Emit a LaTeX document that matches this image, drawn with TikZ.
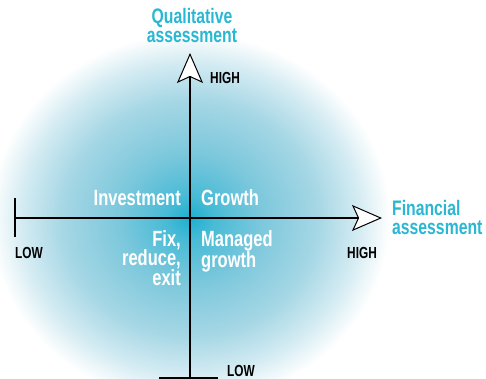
\documentclass[tikz,border=0pt]{standalone}
\usepackage{fontspec}
\newfontfamily\cond[FakeStretch=0.75]{Liberation Sans}
\newfontfamily\condb[FakeStretch=0.74]{Liberation Sans}
\usetikzlibrary{arrows.meta}
\definecolor{glowc}{HTML}{1DAFD0}
\definecolor{glowa}{HTML}{48BBD6}
\definecolor{glowb}{HTML}{7DC8DC}
\definecolor{glowd}{HTML}{A6D7E5}
\definecolor{glowe}{HTML}{D3EBF2}
\definecolor{titlec}{HTML}{2AB7D3}
\pgfdeclareradialshading{glow}{\pgfpoint{0bp}{0bp}}{%
  color(0bp)=(glowc);
  color(3bp)=(glowa);
  color(9bp)=(glowb);
  color(16bp)=(glowd);
  color(21bp)=(glowe);
  color(25bp)=(white);
  color(50bp)=(white)}
\begin{document}
\begin{tikzpicture}[x=1pt,y=-1pt,
  axis/.style={line width=1.2pt, black},
  tipstyle/.style={-{Stealth[length=30pt, width=26pt, inset=6pt, fill=white, line width=1pt]}},
  quad/.style={text=white, inner sep=0pt, font=\cond\bfseries\fontsize{22}{19.5}\selectfont},
  title/.style={text=titlec, inner sep=0pt, font=\cond\bfseries\fontsize{21}{19}\selectfont},
  level/.style={text=black, inner sep=0pt, font=\condb\bfseries\fontsize{16}{15}\selectfont}]
\useasboundingbox (0,0) rectangle (486,379);
\shade[shading=glow] (190,218) ellipse [x radius=200, y radius=185];
\coordinate (o) at (190,218);
\coordinate (top) at (190,53);
\coordinate (bottom) at (190,378);
\coordinate (left) at (15,218);
\coordinate (right) at (382,218);
\coordinate (lt1) at (15,198);
\coordinate (lt2) at (15,237);
\coordinate (bt1) at (159,378);
\coordinate (bt2) at (218,378);
\draw[axis, tipstyle] (bottom) -- (top);
\draw[axis, tipstyle] (left) -- (right);
\draw[axis] (lt1) -- (lt2);
\draw[axis] (bt1) -- (bt2);
\node[title, align=center, anchor=north] (qual) at (192,8) {Qualitative\\assessment};
\node[title, align=left, anchor=north west] (fin) at (392,200) {Financial\\assessment};
\node[level, anchor=base west] (hightop) at (210,84) {HIGH};
\node[level, anchor=base west] (highright) at (347,258) {HIGH};
\node[level, anchor=base west] (lowleft) at (15,258) {LOW};
\node[level, anchor=base west] (lowbottom) at (227,376) {LOW};
\node[quad, anchor=base east] (inv) at (181,205) {Investment};
\node[quad, anchor=base west] (gro) at (201,205) {Growth};
\node[quad, align=right, anchor=north east] (fix) at (181,230) {Fix,\\reduce,\\exit};
\node[quad, align=left, anchor=north west] (man) at (201,230) {Managed\\growth};
\end{tikzpicture}
\end{document}
